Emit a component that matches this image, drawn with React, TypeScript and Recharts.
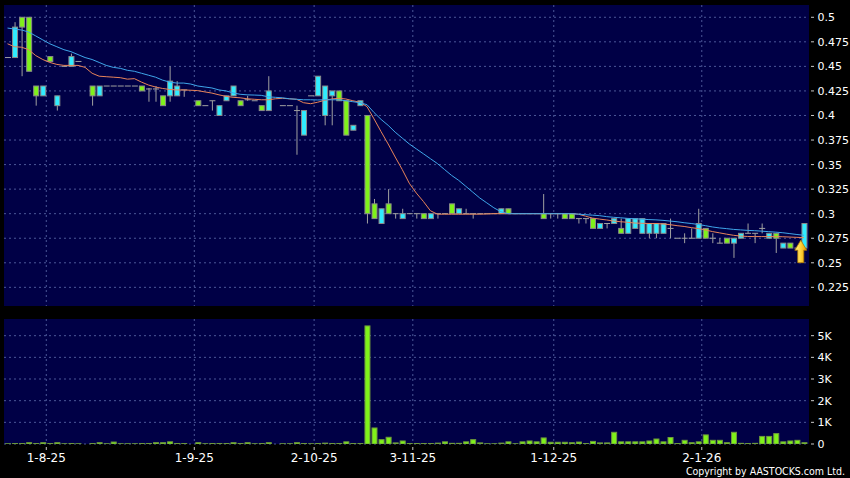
import React from 'react'
import { ComposedChart, Bar, Line, XAxis, YAxis, CartesianGrid, ReferenceDot } from 'recharts'

// trading days, D-M-YY like the axis labels
const days = [
  '24-7-25', '25-7-25', '28-7-25', '29-7-25', '30-7-25', '31-7-25',
  '1-8-25', '4-8-25', '5-8-25', '6-8-25', '7-8-25', '8-8-25', '11-8-25', '12-8-25', '13-8-25', '14-8-25', '15-8-25',
  '18-8-25', '19-8-25', '20-8-25', '21-8-25', '22-8-25', '25-8-25', '26-8-25', '27-8-25', '28-8-25', '29-8-25',
  '1-9-25', '2-9-25', '3-9-25', '4-9-25', '5-9-25', '8-9-25', '9-9-25', '10-9-25', '11-9-25', '12-9-25', '15-9-25',
  '17-9-25', '18-9-25', '19-9-25', '22-9-25', '23-9-25', '25-9-25',
  '2-10-25', '3-10-25', '6-10-25', '8-10-25', '9-10-25', '10-10-25', '13-10-25', '14-10-25', '15-10-25', '16-10-25',
  '17-10-25', '20-10-25', '21-10-25', '22-10-25',
  '3-11-25', '4-11-25', '5-11-25', '6-11-25', '7-11-25', '10-11-25', '11-11-25', '12-11-25', '13-11-25', '14-11-25',
  '17-11-25', '18-11-25', '19-11-25', '20-11-25', '21-11-25', '24-11-25', '25-11-25', '26-11-25', '27-11-25', '28-11-25',
  '1-12-25', '2-12-25', '3-12-25', '4-12-25', '5-12-25', '8-12-25', '9-12-25', '10-12-25', '11-12-25', '12-12-25',
  '15-12-25', '16-12-25', '17-12-25', '18-12-25', '19-12-25', '22-12-25', '23-12-25', '24-12-25', '29-12-25', '30-12-25', '31-12-25',
  '2-1-26', '5-1-26', '6-1-26', '7-1-26', '8-1-26', '9-1-26', '12-1-26', '13-1-26', '14-1-26', '15-1-26',
  '16-1-26', '19-1-26', '20-1-26', '21-1-26', '22-1-26',
]

const N = null
const open = [
  0.459, 0.459, 0.5, 0.5, 0.43, 0.42, 0.46, 0.41, 0.45, 0.45,
  0.455, N, 0.43, 0.42, 0.43, 0.43, 0.43, 0.43, 0.43, 0.43,
  0.427, 0.427, 0.42, 0.42, 0.42, 0.426, N, 0.415, 0.41, 0.415,
  0.4, 0.415, 0.42, 0.415, 0.416, 0.415, 0.41, 0.405, N, 0.41,
  0.41, 0.405, 0.38, 0.42, 0.42, 0.4, 0.42, 0.425, 0.415, 0.385,
  0.41, 0.4, 0.31, 0.29, 0.31, 0.3, 0.295, 0.3, 0.3, 0.3,
  0.295, 0.3, 0.3, 0.31, 0.3, 0.3, 0.3, 0.3, 0.3, 0.3,
  0.3, 0.305, 0.3, 0.3, 0.3, 0.3, 0.3, 0.3, 0.3, 0.3,
  0.3, 0.295, 0.295, 0.295, 0.285, 0.29, 0.29, 0.285, 0.28, 0.285,
  0.28, 0.28, 0.28, 0.28, 0.285, 0.275, 0.275, 0.275, 0.275, 0.285,
  0.275, 0.27, 0.275, 0.27, 0.275, 0.28, 0.28, 0.285, 0.275, 0.28,
  0.265, 0.27, 0.265, 0.265,
]
const high = [
  0.459, 0.495, 0.5, 0.5, 0.43, 0.43, 0.46, 0.42, 0.45, 0.463,
  0.455, N, 0.43, 0.43, 0.43, 0.43, 0.43, 0.43, 0.43, 0.43,
  0.428, 0.43, 0.42, 0.45, 0.435, 0.426, N, 0.415, 0.41, 0.415,
  0.41, 0.42, 0.43, 0.415, 0.42, 0.415, 0.41, 0.44, N, 0.41,
  0.41, 0.41, 0.405, 0.42, 0.44, 0.43, 0.425, 0.425, 0.415, 0.39,
  0.415, 0.4, 0.315, 0.305, 0.325, 0.3, 0.305, 0.3, 0.3, 0.3,
  0.3, 0.3, 0.3, 0.31, 0.305, 0.305, 0.3, 0.3, 0.3, 0.3,
  0.305, 0.305, 0.3, 0.3, 0.3, 0.3, 0.32, 0.3, 0.3, 0.3,
  0.3, 0.295, 0.295, 0.295, 0.29, 0.29, 0.295, 0.295, 0.295, 0.295,
  0.295, 0.29, 0.29, 0.29, 0.295, 0.275, 0.28, 0.285, 0.305, 0.285,
  0.28, 0.275, 0.275, 0.275, 0.28, 0.29, 0.28, 0.29, 0.28, 0.28,
  0.27, 0.27, 0.265, 0.29,
]
const low = [
  0.459, 0.459, 0.44, 0.445, 0.41, 0.42, 0.455, 0.405, 0.45, 0.45,
  0.455, N, 0.41, 0.42, 0.43, 0.43, 0.43, 0.43, 0.43, 0.425,
  0.414, 0.414, 0.41, 0.414, 0.42, 0.419, N, 0.41, 0.41, 0.405,
  0.4, 0.415, 0.42, 0.41, 0.415, 0.415, 0.405, 0.405, N, 0.41,
  0.41, 0.36, 0.38, 0.42, 0.42, 0.39, 0.39, 0.415, 0.38, 0.385,
  0.41, 0.29, 0.295, 0.29, 0.3, 0.295, 0.295, 0.3, 0.295, 0.295,
  0.295, 0.295, 0.3, 0.3, 0.3, 0.3, 0.295, 0.3, 0.3, 0.3,
  0.3, 0.3, 0.3, 0.3, 0.3, 0.3, 0.295, 0.295, 0.295, 0.295,
  0.295, 0.29, 0.29, 0.285, 0.285, 0.285, 0.29, 0.28, 0.28, 0.285,
  0.28, 0.275, 0.275, 0.28, 0.275, 0.275, 0.27, 0.275, 0.275, 0.275,
  0.27, 0.27, 0.27, 0.255, 0.275, 0.28, 0.27, 0.28, 0.275, 0.26,
  0.265, 0.265, 0.265, 0.265,
]
const close = [
  0.459, 0.49, 0.49, 0.445, 0.42, 0.43, 0.455, 0.42, 0.45, 0.46,
  0.455, N, 0.42, 0.43, 0.43, 0.43, 0.43, 0.43, 0.43, 0.425,
  0.427, 0.427, 0.41, 0.435, 0.43, 0.426, N, 0.41, 0.41, 0.415,
  0.41, 0.42, 0.43, 0.41, 0.416, 0.415, 0.405, 0.425, N, 0.41,
  0.41, 0.405, 0.405, 0.42, 0.44, 0.43, 0.425, 0.415, 0.38, 0.39,
  0.415, 0.3, 0.295, 0.305, 0.3, 0.3, 0.3, 0.3, 0.3, 0.295,
  0.3, 0.3, 0.3, 0.3, 0.305, 0.3, 0.3, 0.3, 0.3, 0.3,
  0.305, 0.3, 0.3, 0.3, 0.3, 0.3, 0.295, 0.3, 0.3, 0.295,
  0.295, 0.295, 0.295, 0.285, 0.29, 0.29, 0.295, 0.28, 0.295, 0.295,
  0.295, 0.29, 0.29, 0.29, 0.285, 0.275, 0.275, 0.275, 0.29, 0.275,
  0.275, 0.27, 0.27, 0.275, 0.28, 0.28, 0.28, 0.285, 0.28, 0.275,
  0.27, 0.265, 0.265, 0.29,
]
const volume = [
  10, 20, 20, 60, 20, 60, 20, 60, 10, 20,
  10, 0, 20, 60, 10, 90, 10, 10, 10, 20,
  20, 60, 60, 100, 20, 20, 0, 60, 10, 20,
  20, 20, 60, 20, 60, 10, 20, 60, 0, 10,
  10, 60, 20, 10, 20, 40, 20, 20, 100, 20,
  20, 5450, 740, 200, 310, 50, 140, 20, 20, 20,
  20, 40, 100, 30, 30, 100, 200, 50, 10, 10,
  40, 100, 10, 100, 140, 100, 280, 80, 80, 80,
  60, 90, 20, 120, 50, 50, 540, 100, 100, 100,
  100, 140, 230, 100, 300, 20, 170, 60, 100, 420,
  170, 170, 60, 540, 30, 20, 30, 350, 350, 480,
  100, 140, 170, 60,
]
// moving averages as drawn (orange = short, blue = long)
const maShort = [
  0.473, 0.47, 0.4695, 0.467, 0.461, 0.457, 0.454, 0.452, 0.451, 0.451,
  0.451, 0.449, 0.443, 0.44, 0.4395, 0.439, 0.4385, 0.437, 0.4375, 0.434,
  0.431, 0.429, 0.4275, 0.4265, 0.426, 0.426, 0.4257, 0.4253, 0.424, 0.4228,
  0.421, 0.4195, 0.4185, 0.418, 0.417, 0.4165, 0.416, 0.416, 0.417, 0.4175,
  0.417, 0.4165, 0.413, 0.412, 0.4135, 0.4155, 0.4168, 0.4175, 0.4168, 0.415,
  0.4135, 0.409, 0.3965, 0.3835, 0.371, 0.3577, 0.345, 0.331, 0.321, 0.3125,
  0.303, 0.2995, 0.2995, 0.2995, 0.2995, 0.2995, 0.2995, 0.2995, 0.2997, 0.3,
  0.3, 0.3, 0.3, 0.3, 0.3, 0.3, 0.3, 0.3, 0.3, 0.3,
  0.3, 0.2995, 0.2975, 0.2955, 0.2945, 0.2936, 0.2925, 0.2918, 0.2912, 0.2905,
  0.2902, 0.29, 0.29, 0.2895, 0.2888, 0.2878, 0.287, 0.2858, 0.2848, 0.2835,
  0.2818, 0.2805, 0.2792, 0.278, 0.2772, 0.2768, 0.2767, 0.2767, 0.2767, 0.2767,
  0.2765, 0.2762, 0.2759, 0.2756,
]
const maLong = [
  0.489, 0.488, 0.487, 0.485, 0.481, 0.477, 0.473, 0.47, 0.467, 0.465,
  0.462, 0.459, 0.457, 0.454, 0.451, 0.449, 0.448, 0.446, 0.445, 0.443,
  0.441, 0.439, 0.436, 0.434, 0.433, 0.433, 0.432, 0.43, 0.429, 0.428,
  0.426, 0.425, 0.423, 0.4216, 0.421, 0.4208, 0.4205, 0.419, 0.4185, 0.418,
  0.417, 0.4165, 0.416, 0.416, 0.4158, 0.416, 0.416, 0.416, 0.415, 0.414,
  0.413, 0.411, 0.403, 0.396, 0.39, 0.383, 0.377, 0.371, 0.366, 0.361,
  0.356, 0.351, 0.345, 0.339, 0.334, 0.328, 0.322, 0.316, 0.311, 0.306,
  0.302, 0.3, 0.3, 0.3, 0.3, 0.3, 0.3, 0.3, 0.3, 0.3,
  0.3, 0.2995, 0.299, 0.2985, 0.298, 0.297, 0.2963, 0.2958, 0.2952, 0.2948,
  0.2944, 0.294, 0.2937, 0.2932, 0.2925, 0.2918, 0.2908, 0.29, 0.289, 0.2878,
  0.2865, 0.2855, 0.2848, 0.284, 0.2835, 0.283, 0.2827, 0.2822, 0.2817, 0.2812,
  0.2806, 0.2797, 0.2788, 0.278,
]

const dateTicks = ['1-8-25', '1-9-25', '2-10-25', '3-11-25', '1-12-25', '2-1-26']
const priceTicks = [0.225, 0.25, 0.275, 0.3, 0.325, 0.35, 0.375, 0.4, 0.425, 0.45, 0.475, 0.5]
const volTicks = [0, 1000, 2000, 3000, 4000, 5000]
const signalPrice = 0.273

const rows = days.map((day, i) => ({
  day,
  open: open[i],
  high: high[i],
  low: low[i],
  close: close[i],
  vol: volume[i],
  maShort: maShort[i],
  maLong: maLong[i],
}))

const PANEL = '#000046'
const GRID = '#4b5798'
const WICK = '#a0a0a0'
const EDGE = '#8a8a8a'
const UP = '#30ecff'
const DOWN = '#7ff21a'
const FONT = '"DejaVu Sans", Verdana, sans-serif'

// plot geometry shared by both panels: x from 4 to 809, 1.5px right padding
const PLOT_LEFT = 4
const PAD_RIGHT = 1.5
const PLOT_W = 805
const SLOT = (PLOT_W - PAD_RIGHT) / days.length
const HALF_SLOT = SLOT / 2

// vertical grid at the left edge of the slot of each labelled day
const gridX = dateTicks.map((d) => PLOT_LEFT + days.indexOf(d) * SLOT)

function Candle(props: any) {
  const { x, y, width, height, payload } = props
  if (!payload || payload.open == null) return null
  const { open: o, high: h, low: l, close: c } = payload
  const top = Math.min(y, y + height)
  const hh = Math.abs(height)
  const cx = x + width / 2
  const toY = (v: number) => (h > l ? top + ((h - v) / (h - l)) * hh : top)
  const yo = toY(o)
  const yc = toY(c)
  return (
    <g>
      {hh > 0 && <line x1={cx} x2={cx} y1={top} y2={top + hh} stroke={WICK} strokeWidth={1} />}
      {o === c ? (
        <line x1={x} x2={x + width} y1={yo} y2={yo} stroke={WICK} strokeWidth={1} />
      ) : (
        <rect
          x={x + 0.5}
          y={Math.min(yo, yc)}
          width={width - 1}
          height={Math.abs(yc - yo)}
          fill={c > o ? UP : DOWN}
          stroke={EDGE}
          strokeWidth={1}
        />
      )}
    </g>
  )
}

function VolBar(props: any) {
  const { x, y, width, height } = props
  if (!height || height <= 0) return null
  return <rect x={x + 0.5} y={y} width={width - 1} height={height} fill={DOWN} stroke="#6f9a3c" strokeWidth={1} />
}

function Arrow(props: any) {
  const { cx, cy } = props
  const x = cx - 3.2
  return (
    <g>
      <defs>
        <linearGradient id="arrowFill" x1="0" x2="1" y1="0" y2="0">
          <stop offset="0" stopColor="#fff08a" />
          <stop offset="0.5" stopColor="#ffd23a" />
          <stop offset="1" stopColor="#e49a00" />
        </linearGradient>
      </defs>
      <path
        d={`M${x},${cy} L${x + 6},${cy + 10} L${x + 3},${cy + 10} L${x + 3},${cy + 22.5} L${x - 3},${cy + 22.5} L${x - 3},${cy + 10} L${x - 6},${cy + 10} Z`}
        fill="url(#arrowFill)"
        stroke="#b27a00"
        strokeWidth={0.8}
      />
    </g>
  )
}

function RightTick(props: any) {
  const { x, y, payload, fmt } = props
  return (
    <g>
      <line x1={x + 2} x2={x + 5} y1={y} y2={y} stroke="#c8c8c8" strokeWidth={1} />
      <text x={x + 8.5} y={y} dy="0.36em" fill="#ffffff" fontSize={11} fontFamily={FONT}>
        {fmt ? fmt(payload.value) : String(payload.value)}
      </text>
    </g>
  )
}

function DateTick(props: any) {
  const { x, y, payload } = props
  const lx = x - HALF_SLOT
  return (
    <g>
      <line x1={lx} x2={lx} y1={y + 3} y2={y + 6} stroke="#c8c8c8" strokeWidth={1} />
      <text x={lx} y={y + 17.5} textAnchor="middle" fill="#ffffff" fontSize={12} fontFamily={FONT}>
        {payload.value}
      </text>
    </g>
  )
}

const volFmt = (v: number) => (v === 0 ? '0' : `${v / 1000}K`)

export default function App() {
  const last = days[days.length - 1]
  return (
    <div style={{ position: 'absolute', left: 0, top: 0, width: 850, height: 478, background: '#000', overflow: 'hidden', fontFamily: FONT }}>
      <div style={{ position: 'absolute', left: 0, top: 0 }}>
        <ComposedChart width={850} height={306} data={rows} margin={{ top: 5, right: 3, bottom: 0, left: PLOT_LEFT }}>
          <CartesianGrid
            fill={PANEL}
            fillOpacity={1}
            stroke={GRID}
            strokeDasharray="2 3"
            syncWithTicks
            verticalPoints={gridX}
          />
          <XAxis dataKey="day" hide padding={{ left: 0, right: PAD_RIGHT }} />
          <YAxis
            orientation="right"
            width={38}
            type="number"
            domain={[0.206, 0.5125]}
            allowDataOverflow
            ticks={priceTicks}
            interval={0}
            tickSize={0}
            tickMargin={0}
            tickLine={false}
            axisLine={false}
            tick={(p: any) => <RightTick {...p} />}
          />
          <Bar
            dataKey={(d: any) => (d.open == null ? null : [d.low, d.high])}
            barSize={6}
            shape={(p: any) => <Candle {...p} />}
            isAnimationActive={false}
          />
          <Line dataKey="maShort" type="linear" stroke="#e8845a" strokeWidth={1} dot={false} activeDot={false} isAnimationActive={false} />
          <Line dataKey="maLong" type="linear" stroke="#3fa6ea" strokeWidth={1} dot={false} activeDot={false} isAnimationActive={false} />
          <ReferenceDot x={last} y={signalPrice} r={6} shape={(p: any) => <Arrow {...p} />} />
        </ComposedChart>
      </div>
      <div style={{ position: 'absolute', left: 0, top: 306 }}>
        <ComposedChart width={850} height={172} data={rows} margin={{ top: 13, right: 3, bottom: 12, left: PLOT_LEFT }}>
          <CartesianGrid
            fill={PANEL}
            fillOpacity={1}
            stroke={GRID}
            strokeDasharray="2 3"
            syncWithTicks
            verticalPoints={gridX}
          />
          <XAxis
            dataKey="day"
            padding={{ left: 0, right: PAD_RIGHT }}
            ticks={dateTicks}
            interval={0}
            height={22}
            tickSize={0}
            tickMargin={0}
            tickLine={false}
            axisLine={false}
            tick={(p: any) => <DateTick {...p} />}
          />
          <YAxis
            orientation="right"
            width={38}
            type="number"
            domain={[0, 5770]}
            allowDataOverflow
            ticks={volTicks}
            interval={0}
            tickSize={0}
            tickMargin={0}
            tickLine={false}
            axisLine={false}
            tick={(p: any) => <RightTick {...p} fmt={volFmt} />}
          />
          <Bar dataKey="vol" barSize={6} shape={(p: any) => <VolBar {...p} />} isAnimationActive={false} />
        </ComposedChart>
      </div>
      <div
        style={{
          position: 'absolute',
          right: 5,
          top: 466,
          color: '#ffffff',
          fontSize: 10.5,
          lineHeight: '11px',
          fontFamily: '"DejaVu Sans Condensed", "DejaVu Sans", sans-serif',
          fontStretch: 'condensed',
          whiteSpace: 'nowrap',
        }}
      >
        Copyright by AASTOCKS.com Ltd.
      </div>
    </div>
  )
}
